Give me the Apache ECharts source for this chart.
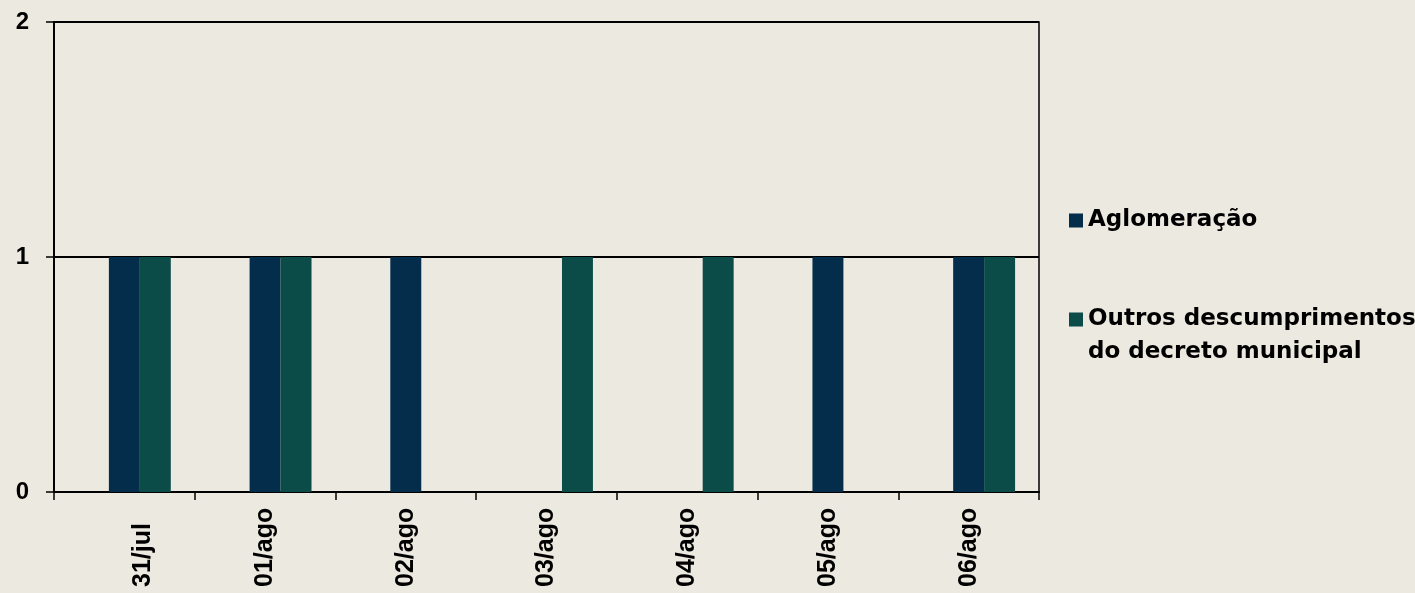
<!DOCTYPE html>
<html>
<head>
<meta charset="utf-8">
<script src="https://cdn.jsdelivr.net/npm/echarts@6/dist/echarts.min.js"></script>
<style>
html, body { margin: 0; padding: 0; background: #ECE9E0; }
#chart { width: 1415px; height: 593px; }
</style>
</head>
<body>
<div id="chart"></div>
<script>
var categories = ['31/jul', '01/ago', '02/ago', '03/ago', '04/ago', '05/ago', '06/ago'];
var aglomeracao = [1, 1, 1, 0, 0, 1, 1];
var outros = [1, 1, 0, 1, 1, 0, 1];
// empty first series in the original (keeps the bars shifted right)
var vazio = [null, null, null, null, null, null, null];
var yTicks = [0, 1, 2];

var nomeOutros = 'Outros descumprimentos\ndo decreto municipal';

var myChart = echarts.init(document.getElementById('chart'));

myChart.setOption({
    backgroundColor: '#ECE9E0',
    animation: false,
    grid: {
        left: 54, right: 376, top: 22, bottom: 101,
        show: true, borderColor: '#000', borderWidth: 1.5, backgroundColor: 'transparent'
    },
    legend: [{
        data: ['Aglomeração'],
        left: 1069, top: 204, padding: 0,
        itemWidth: 14, itemHeight: 14, icon: 'rect',
        textStyle: { fontFamily: 'DejaVu Sans', fontWeight: 'bold', fontSize: 23, color: '#000', lineHeight: 33 }
    }, {
        data: [nomeOutros],
        left: 1069, top: 303, padding: 0,
        itemWidth: 14, itemHeight: 66,
        icon: 'path://M0,0L0.05,0M0,9.5h14v14h-14zM0,66L0.05,66',
        textStyle: { fontFamily: 'DejaVu Sans', fontWeight: 'bold', fontSize: 23, color: '#000', lineHeight: 33 }
    }],
    xAxis: {
        type: 'category',
        data: categories,
        axisLine: { lineStyle: { color: '#000', width: 2 } },
        axisTick: { show: true, length: 8, interval: 0, lineStyle: { color: '#000', width: 1.5 } },
        axisLabel: {
            interval: 0, rotate: 90, align: 'left', margin: 95,
            fontFamily: 'Arial, Liberation Sans', fontWeight: 'bold', fontSize: 25, color: '#000',
            formatter: function (v, i) {
                return i === 0 ? '{a|' + v + '}' : v;
            },
            rich: {
                a: { fontFamily: 'Arial, Liberation Sans', fontWeight: 'bold', fontSize: 25, color: '#000', padding: [38, 0, 0, 0] }
            }
        },
        splitLine: { show: false }
    },
    yAxis: {
        type: 'value',
        min: yTicks[0], max: yTicks[yTicks.length - 1], interval: 1,
        axisLine: { show: true, lineStyle: { color: '#000', width: 2 } },
        axisTick: { show: true, length: 8, lineStyle: { color: '#000', width: 1.5 } },
        axisLabel: { margin: 25, fontFamily: 'Arial, Liberation Sans', fontWeight: 'bold', fontSize: 24, color: '#000' },
        splitLine: { show: true, lineStyle: { color: '#000', width: 2 } }
    },
    series: [{
        name: '',
        type: 'bar',
        data: vazio,
        barGap: 0,
        barCategoryGap: '34%'
    }, {
        name: 'Aglomeração',
        type: 'bar',
        data: aglomeracao,
        itemStyle: { color: '#032D4A' },
        barGap: 0,
        barCategoryGap: '34%'
    }, {
        name: nomeOutros,
        type: 'bar',
        data: outros,
        itemStyle: { color: '#0B4B48' },
        barGap: 0,
        barCategoryGap: '34%'
    }]
});
</script>
</body>
</html>
